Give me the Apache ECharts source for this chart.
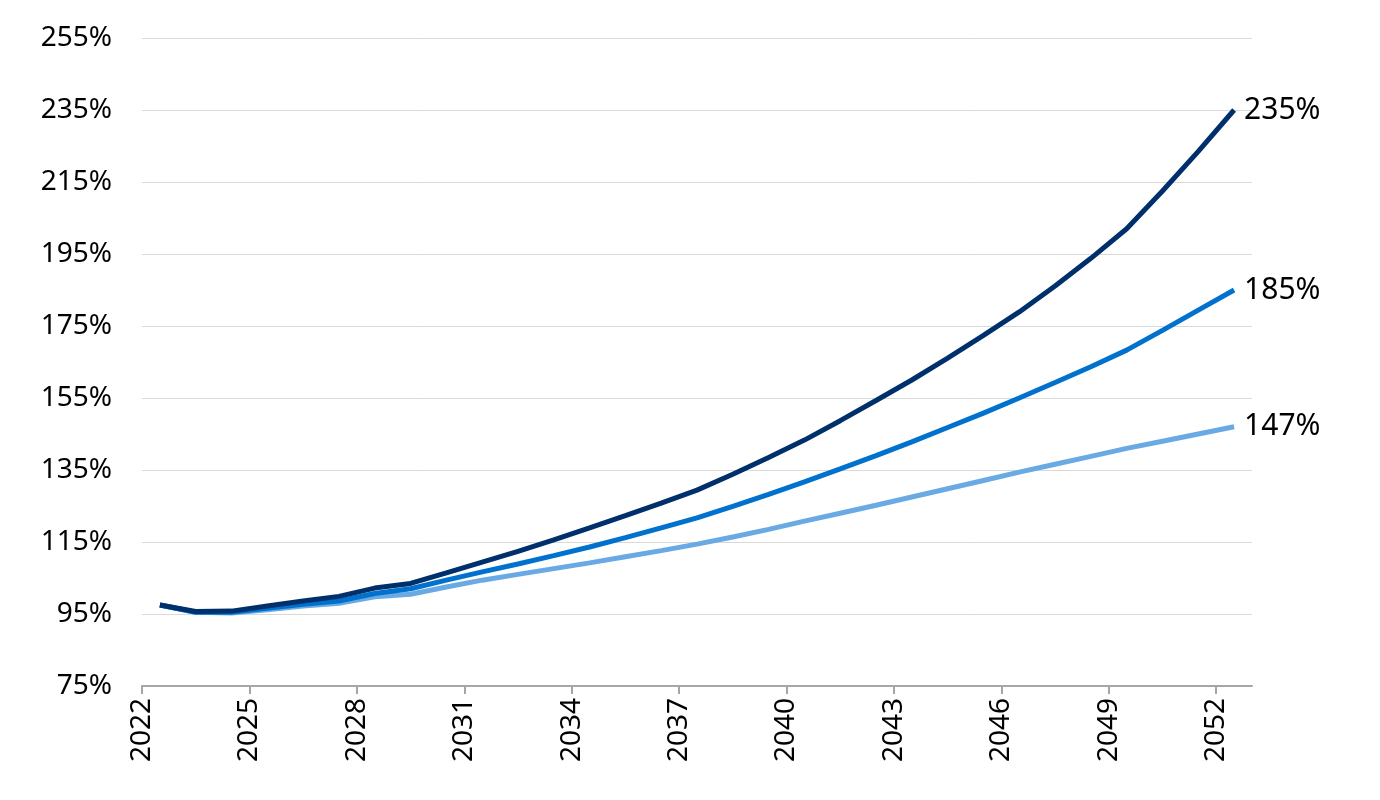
<!DOCTYPE html>
<html><head><meta charset="utf-8">
<script src="https://cdn.jsdelivr.net/npm/echarts@6/dist/echarts.min.js"></script>
<style>html,body{margin:0;background:#fff}#c{width:1380px;height:800px}</style>
</head><body><div id="c"></div>
<script>
const years = [2022,2023,2024,2025,2026,2027,2028,2029,2030,2031,2032,2033,2034,2035,2036,2037,2038,2039,2040,2041,2042,2043,2044,2045,2046,2047,2048,2049,2050,2051,2052];
const darkSeries = [97.5,95.7,95.8,97.2,98.6,99.9,102.2,103.5,106.4,109.4,112.4,115.6,118.9,122.3,125.8,129.4,133.8,138.5,143.3,148.7,154.3,160.0,166.1,172.4,178.9,186.1,193.8,202.0,212.5,223.5,235];
const midSeries = [97.5,95.5,95.5,96.6,97.7,98.6,100.7,102.0,104.4,106.7,108.9,111.2,113.6,116.2,118.9,121.7,124.9,128.2,131.7,135.3,139.0,142.8,146.8,150.8,155.0,159.3,163.7,168.3,173.8,179.4,185];
const lightSeries = [97.5,95.5,95.3,96.2,97.2,98.0,99.8,100.5,102.5,104.4,106.0,107.6,109.2,110.9,112.6,114.4,116.4,118.5,120.8,123.0,125.2,127.5,129.8,132.1,134.4,136.6,138.8,141.0,143.0,145.0,147];
const colors = ['#00306b','#0072ce','#6aaae4'];
const font = 'Noto Sans';
function mk(name, vals, color){
  return {name, type:'line', data: years.map((y,i)=>[y+0.5, vals[i]]), showSymbol:false, smooth:false,
    lineStyle:{color, width:5}, itemStyle:{color},
    endLabel:{show:true, formatter:p=>Math.round(p.value[1])+'%', color:'#000', fontSize:30, fontFamily:font, distance:10}};
}
const chart = echarts.init(document.getElementById('c'));
chart.setOption({
  animation:false,
  grid:{left:142,right:128,top:38,bottom:114},
  xAxis:{type:'value', min:2022, max:2053, interval:3,
    axisLine:{show:true, lineStyle:{color:'#a6a6a6', width:2}}, axisTick:{show:true, length:8, lineStyle:{color:'#a6a6a6', width:2}},
    splitLine:{show:false},
    axisLabel:{rotate:90, fontSize:28, color:'#000', fontFamily:font, showMaxLabel:false, formatter:v=>String(v), margin:12}},
  yAxis:{type:'value', min:75, max:255, interval:20,
    axisLine:{show:false}, axisTick:{show:false},
    splitLine:{lineStyle:{color:'#d9d9d9', width:1}},
    axisLabel:{fontSize:28, color:'#000', fontFamily:font, formatter:v=>v+'%', margin:30}},
  series:[mk('light', lightSeries, colors[2]), mk('mid', midSeries, colors[1]), mk('dark', darkSeries, colors[0])]
});
</script></body></html>
